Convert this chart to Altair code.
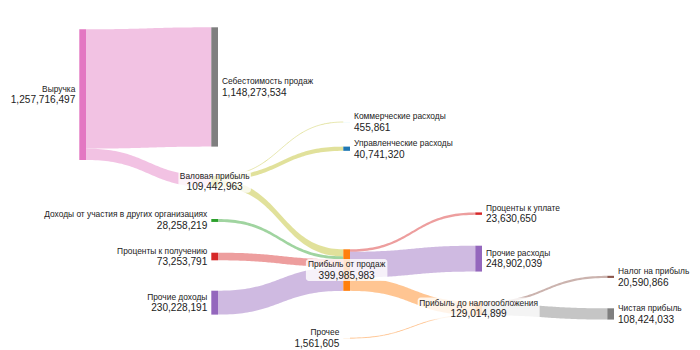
import altair as alt
import pandas as pd
import numpy as np

# ---------------- data ----------------
node_names = [
    "Выручка", "Себестоимость продаж", "Валовая прибыль", "Коммерческие расходы",
    "Управленческие расходы", "Доходы от участия в других организациях",
    "Проценты к получению", "Прочие доходы", "Прибыль от продаж",
    "Проценты к уплате", "Прочие расходы", "Прибыль до налогообложения",
    "Прочее", "Налог на прибыль", "Чистая прибыль",
]
link_source = [
    "Выручка", "Выручка",
    "Валовая прибыль", "Валовая прибыль", "Валовая прибыль",
    "Доходы от участия в других организациях", "Проценты к получению", "Прочие доходы",
    "Прибыль от продаж", "Прибыль от продаж", "Прибыль от продаж",
    "Прочее",
    "Прибыль до налогообложения", "Прибыль до налогообложения",
]
link_target = [
    "Себестоимость продаж", "Валовая прибыль",
    "Коммерческие расходы", "Управленческие расходы", "Прибыль от продаж",
    "Прибыль от продаж", "Прибыль от продаж", "Прибыль от продаж",
    "Проценты к уплате", "Прочие расходы", "Прибыль до налогообложения",
    "Прибыль до налогообложения",
    "Налог на прибыль", "Чистая прибыль",
]
link_value = [
    1148273534, 109442963,
    455861, 40741320, 68245782,
    28258219, 73253791, 230228191,
    23630650, 248902039, 127453294,
    1561605,
    20590866, 108424033,
]

# ---------------- layout & style ----------------
node_column = {
    "Выручка": 0, "Себестоимость продаж": 1, "Валовая прибыль": 1,
    "Доходы от участия в других организациях": 1, "Проценты к получению": 1,
    "Прочие доходы": 1, "Коммерческие расходы": 2, "Управленческие расходы": 2,
    "Прибыль от продаж": 2, "Прочее": 2, "Проценты к уплате": 3,
    "Прочие расходы": 3, "Прибыль до налогообложения": 3,
    "Налог на прибыль": 4, "Чистая прибыль": 4,
}
node_top_px = {
    "Выручка": 29.3, "Себестоимость продаж": 27.3, "Валовая прибыль": 176.0,
    "Доходы от участия в других организациях": 219.0, "Проценты к получению": 252.7,
    "Прочие доходы": 290.7, "Коммерческие расходы": 122.0, "Управленческие расходы": 146.6,
    "Прибыль от продаж": 249.3, "Прочее": 338.0, "Проценты к уплате": 212.4,
    "Прочие расходы": 245.7, "Прибыль до налогообложения": 301.8,
    "Налог на прибыль": 275.8, "Чистая прибыль": 308.3,
}
label_side = {
    "Выручка": "left", "Себестоимость продаж": "right", "Валовая прибыль": "center",
    "Доходы от участия в других организациях": "left", "Проценты к получению": "left",
    "Прочие доходы": "left", "Коммерческие расходы": "right", "Управленческие расходы": "right",
    "Прибыль от продаж": "center", "Прочее": "left", "Проценты к уплате": "right",
    "Прочие расходы": "right", "Прибыль до налогообложения": "center",
    "Налог на прибыль": "right", "Чистая прибыль": "right",
}
node_color = {
    "Выручка": "#e377c2", "Себестоимость продаж": "#7f7f7f", "Валовая прибыль": "#bcbd22",
    "Доходы от участия в других организациях": "#2ca02c", "Проценты к получению": "#d62728",
    "Прочие доходы": "#9467bd", "Коммерческие расходы": "#17becf", "Управленческие расходы": "#1f77b4",
    "Прибыль от продаж": "#ff7f0e", "Прочее": "#ffbb78", "Проценты к уплате": "#d62728",
    "Прочие расходы": "#9467bd", "Прибыль до налогообложения": "#ff7f0e",
    "Налог на прибыль": "#8c564b", "Чистая прибыль": "#7f7f7f",
}
link_color = [
    "#e377c2", "#e377c2",
    "#bcbd22", "#bcbd22", "#bcbd22",
    "#2ca02c", "#d62728", "#9467bd",
    "#d62728", "#9467bd", "#ff7f0e",
    "#ff7f0e",
    "#8c564b", "#7f7f7f",
]

K_PX = 0.1039e-6           # pixels per rouble
U = 1.0 / K_PX             # roubles per pixel
X0, STEP, NODE_W = 79.3, 132.0, 6.7
W_PX, H_PX = 700, 350
NW = NODE_W / STEP         # node width in column units

# ---------------- sankey layout ----------------
in_sum = {n: 0 for n in node_names}
out_sum = {n: 0 for n in node_names}
for s, t, v in zip(link_source, link_target, link_value):
    out_sum[s] += v
    in_sum[t] += v
node_value = {n: max(in_sum[n], out_sum[n]) for n in node_names}
node_top = {n: node_top_px[n] * U for n in node_names}

nodes = pd.DataFrame({
    "name": node_names,
    "value": [node_value[n] for n in node_names],
    "x": [node_column[n] for n in node_names],
    "x2": [node_column[n] + NW for n in node_names],
    "y": [node_top[n] for n in node_names],
    "y2": [node_top[n] + node_value[n] for n in node_names],
    "color": [node_color[n] for n in node_names],
    "side": [label_side[n] for n in node_names],
})
nodes["yc"] = (nodes["y"] + nodes["y2"]) / 2
nodes["xl"] = nodes["x"]
nodes["xr"] = nodes["x2"]
nodes["xc"] = nodes["x"] + NW / 2
box_w = nodes["name"].str.len() * 4.5 + 5
nodes["bx"] = nodes["xc"] - box_w / 2 / STEP
nodes["bx2"] = nodes["xc"] + box_w / 2 / STEP
nodes["by"] = nodes["yc"] - 11 * U
nodes["by2"] = nodes["yc"] + 11 * U

src_off = {n: 0 for n in node_names}
tgt_off = {n: 0 for n in node_names}
rows = []
ts = np.linspace(0, 1, 60)
for i, (s, t, v) in enumerate(zip(link_source, link_target, link_value)):
    y0 = node_top[s] + src_off[s]
    y1 = node_top[t] + tgt_off[t]
    src_off[s] += v
    tgt_off[t] += v
    x0 = node_column[s] + NW
    x1 = node_column[t]
    xm = (x0 + x1) / 2
    for tt in ts:
        xx = (1 - tt) ** 3 * x0 + 3 * (1 - tt) ** 2 * tt * xm + 3 * (1 - tt) * tt ** 2 * xm + tt ** 3 * x1
        f = 3 * tt ** 2 - 2 * tt ** 3
        top = y0 + (y1 - y0) * f
        rows.append({"link": i, "x": xx, "y": top, "y2": top + v, "ym": top + v / 2,
                     "color": link_color[i], "thin": v * K_PX < 1.0})
links = pd.DataFrame(rows)

xs = alt.Scale(domain=[-X0 / STEP, (W_PX - X0) / STEP])
ys = alt.Scale(domain=[0, H_PX * U], reverse=True)
FONT = "Liberation Sans"

link_layer = alt.Chart(links).mark_area(opacity=0.45).encode(
    x=alt.X("x:Q", scale=xs, axis=None),
    y=alt.Y("y:Q", scale=ys, axis=None, stack=None),
    y2="y2:Q",
    color=alt.Color("color:N", scale=None),
    detail="link:N",
)
thin_layer = alt.Chart(links).transform_filter("datum.thin").mark_line(
    strokeWidth=1, opacity=0.35
).encode(
    x=alt.X("x:Q", scale=xs, axis=None),
    y=alt.Y("ym:Q", scale=ys, axis=None),
    color=alt.Color("color:N", scale=None),
    detail="link:N",
)
node_layer = alt.Chart(nodes).mark_rect().encode(
    x=alt.X("x:Q", scale=xs, axis=None), x2="x2:Q",
    y=alt.Y("y:Q", scale=ys, axis=None), y2="y2:Q",
    color=alt.Color("color:N", scale=None),
)
box_layer = alt.Chart(nodes).transform_filter("datum.side == 'center'").mark_rect(
    color="white", opacity=0.8, cornerRadius=3
).encode(
    x=alt.X("bx:Q", scale=xs, axis=None), x2="bx2:Q",
    y=alt.Y("by:Q", scale=ys, axis=None), y2="by2:Q",
)

text_layers = []
for side, xfield, align, dx in [("left", "xl", "right", -4), ("right", "xr", "left", 4),
                                 ("center", "xc", "center", 0)]:
    base = alt.Chart(nodes).transform_filter(f"datum.side == '{side}'")
    text_layers.append(base.mark_text(
        align=align, baseline="alphabetic", dx=dx, dy=-3, font=FONT, fontSize=8.4, color="#222"
    ).encode(
        x=alt.X(f"{xfield}:Q", scale=xs, axis=None),
        y=alt.Y("yc:Q", scale=ys, axis=None),
        text="name:N",
    ))
    text_layers.append(base.mark_text(
        align=align, baseline="alphabetic", dx=dx, dy=8.8, font=FONT, fontSize=10.1, color="#222"
    ).encode(
        x=alt.X(f"{xfield}:Q", scale=xs, axis=None),
        y=alt.Y("yc:Q", scale=ys, axis=None),
        text=alt.Text("value:Q", format=","),
    ))

chart = alt.layer(link_layer, thin_layer, node_layer, box_layer, *text_layers).properties(
    width=W_PX, height=H_PX, padding=0,
    autosize=alt.AutoSizeParams(type="none"),
).configure_view(strokeWidth=0)

chart.save("out.html", embed_options={"renderer": "svg", "actions": False})
